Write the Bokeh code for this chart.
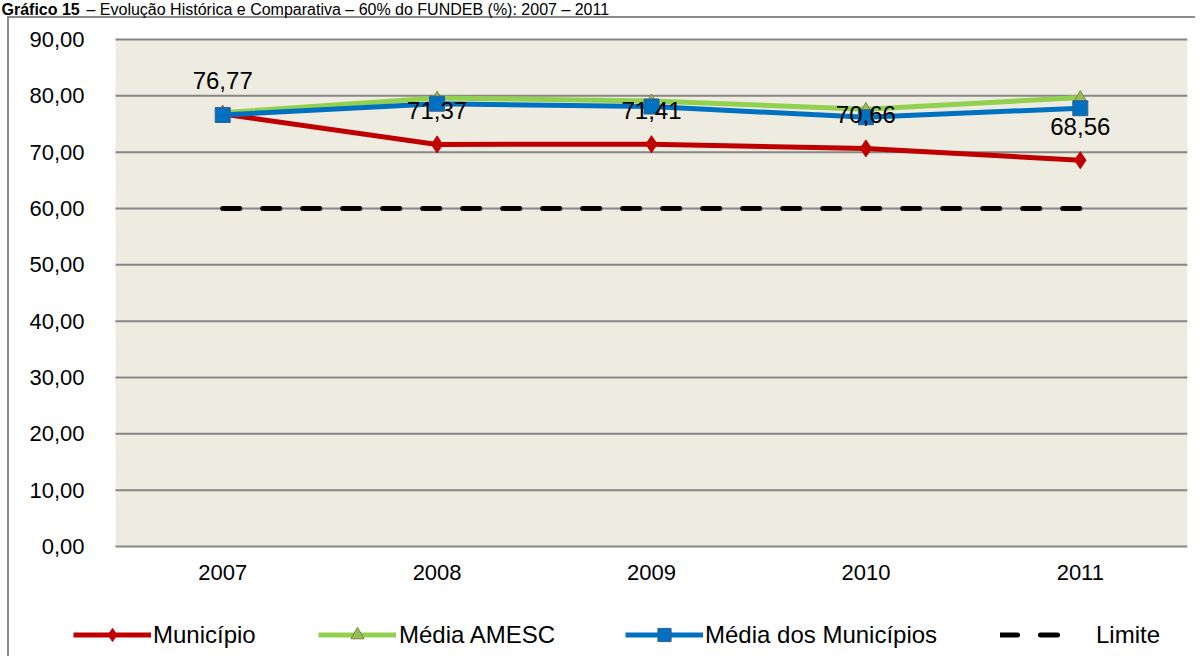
from bokeh.plotting import figure
from bokeh.models import (Range1d, FixedTicker, Legend, LegendItem, BoxAnnotation, Label)
from bokeh.core.properties import value
from bokeh.embed import file_html
from bokeh.resources import INLINE

# ---- data ----
years = ["2007", "2008", "2009", "2010", "2011"]
municipio = [76.77, 71.37, 71.41, 70.66, 68.56]
media_amesc = [77.0, 79.6, 79.1, 77.6, 79.7]
media_municipios = [76.6, 78.6, 78.1, 76.2, 77.8]
limite = [60, 60, 60, 60, 60]
municipio_labels = ["76,77", "71,37", "71,41", "70,66", "68,56"]
y_ticks = [0, 10, 20, 30, 40, 50, 60, 70, 80, 90]
y_tick_labels = ["0,00", "10,00", "20,00", "30,00", "40,00",
                 "50,00", "60,00", "70,00", "80,00", "90,00"]
series_names = ["Município", "Média AMESC", "Média dos Municípios", "Limite"]
title_bold = "Gráfico 15"
title_rest = "– Evolução Histórica e Comparativa – 60% do FUNDEB (%): 2007 – 2011"

FONT = "Liberation Sans"

xs = list(range(len(years)))            # category positions
x_lo, x_hi = -0.5, len(years) - 0.5     # plot-area edges
y_lo, y_hi = y_ticks[0], y_ticks[-1]

# the frame covers the whole canvas, so that title, tick labels and legend
# can sit around the shaded plot area (0..90 x 2007..2011)
p = figure(width=1195, height=656, output_backend="svg", toolbar_location=None,
           x_range=Range1d(-1.0364, x_hi), y_range=Range1d(-19.53, 96.92),
           min_border_left=0, min_border_right=8,
           min_border_top=0, min_border_bottom=0)

p.background_fill_color = None
p.border_fill_color = None
p.outline_line_color = None
# outer chart box: left and top edges are visible in the reference
p.styles = {"box-shadow": "inset 7px 16px 0 0 white, inset 9px 18px 0 0 #8C8C8C",
            "background-color": "white"}

# title
p.add_layout(Label(x=0, y=0, x_units="screen", y_units="screen",
                   x_offset=1, y_offset=647, text=title_bold, text_font=FONT,
                   text_font_size="16px", text_font_style="bold",
                   text_baseline="alphabetic", text_color="black"))
p.add_layout(Label(x=0, y=0, x_units="screen", y_units="screen",
                   x_offset=86, y_offset=647, text=title_rest, text_font=FONT,
                   text_font_size="16px", text_baseline="alphabetic",
                   text_color="black"))

# plot area background and grid lines
p.xgrid.visible = False
p.ygrid.visible = False
p.add_layout(BoxAnnotation(left=x_lo, right=x_hi, bottom=y_lo, top=y_hi,
                           fill_color="#EEECE1", fill_alpha=1,
                           line_color=None, level="underlay"))
p.segment(x0=[x_lo] * len(y_ticks), x1=[x_hi] * len(y_ticks),
          y0=y_ticks, y1=y_ticks, line_color="#868686", line_width=2)

# axes drawn at the plot-area edges
p.yaxis.fixed_location = x_lo
p.xaxis.fixed_location = y_lo
p.yaxis.ticker = FixedTicker(ticks=y_ticks)
p.yaxis.major_label_overrides = {t: l for t, l in zip(y_ticks, y_tick_labels)}
p.xaxis.ticker = FixedTicker(ticks=xs)
p.xaxis.major_label_overrides = {i: y for i, y in zip(xs, years)}

for ax in (p.xaxis[0], p.yaxis[0]):
    ax.axis_line_color = None
    ax.major_tick_line_color = None
    ax.minor_tick_line_color = None
    ax.major_label_text_font = FONT
    ax.major_label_text_font_size = "22px"
    ax.major_label_text_color = "black"
p.yaxis.major_label_standoff = 25
p.xaxis.major_label_standoff = 13

# series
r_mun_l = p.line(xs, municipio, line_color="#C00000", line_width=5)
r_mun_m = p.scatter(xs, municipio, marker="diamond", size=17,
                    fill_color="#C00000", line_color="#C00000")
r_ame_l = p.line(xs, media_amesc, line_color="#92D050", line_width=5)
r_ame_m = p.scatter(xs, media_amesc, marker="triangle", size=12,
                    fill_color="#9BBB59", line_color="#71893F", line_width=1)
r_med_l = p.line(xs, media_municipios, line_color="#0070C0", line_width=5)
r_med_m = p.scatter(xs, media_municipios, marker="square", size=15,
                    fill_color="#0070C0", line_color="#3A5E8C", line_width=1)
r_lim = p.line(xs, limite, line_color="black", line_width=5,
               line_dash="17 23", line_cap="round")

p.text(x=xs, y=municipio, text=municipio_labels, y_offset=-34,
       text_align="center", text_baseline="middle",
       text_font=value(FONT), text_font_size="24px", text_color="black")

# legend: one box per entry, placed along the bottom band
legend_entries = [
    (series_names[0], [r_mun_l, r_mun_m], 73, 2),
    (series_names[1], [r_ame_l, r_ame_m], 318, 3),
    (series_names[2], [r_med_l, r_med_m], 625, 2),
    (series_names[3], [r_lim], 1000, 18),
]
for name, rends, xloc, standoff in legend_entries:
    lg = Legend(items=[LegendItem(label=name, renderers=rends)],
                location=(xloc, 5), orientation="horizontal",
                glyph_width=78, glyph_height=33, label_standoff=standoff,
                padding=0, margin=0, border_line_color=None,
                background_fill_alpha=0,
                label_text_font=FONT, label_text_font_size="24px",
                label_text_color="black")
    p.add_layout(lg, "center")

open("out.html", "w").write(file_html(p, INLINE))
